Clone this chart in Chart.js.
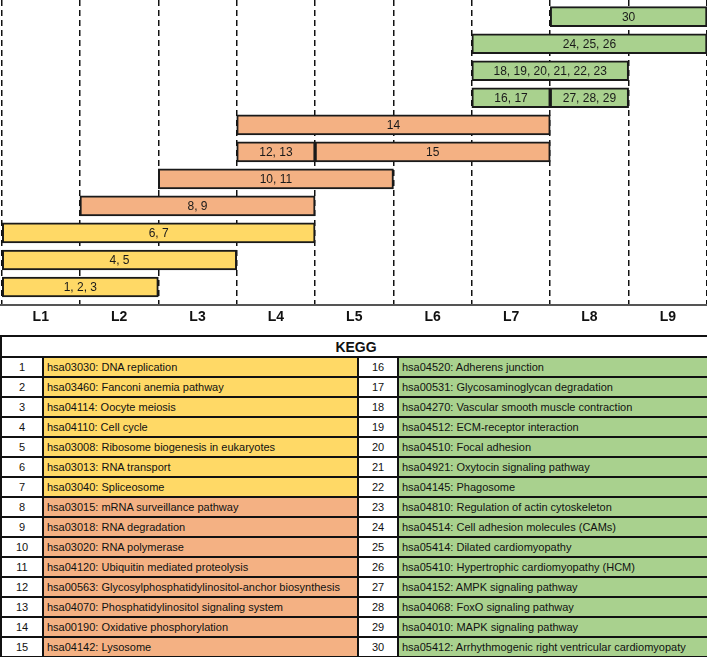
<!DOCTYPE html>
<html>
<head>
<meta charset="utf-8">
<script src="https://cdn.jsdelivr.net/npm/chart.js@4.4.1/dist/chart.umd.min.js"></script>
<style>
  body { margin: 0; background: #fff; }
  #wrap { position: absolute; left: 0; top: 0; width: 707px; height: 330px; }
  #kegg {
    position: absolute; left: 0; top: 335px; width: 707px;
    border-collapse: collapse; table-layout: fixed;
    font-family: "Liberation Sans", Arial, sans-serif; font-size: 11px; color: #111;
  }
  #kegg td, #kegg th { border: 2px solid #111; padding: 0 0 0 3px; white-space: nowrap; overflow: hidden; }
  #kegg th { font-size: 14px; font-weight: bold; height: 19px; background: #fff; text-align: center; }
  #kegg td { height: 18px; line-height: 16px; }
  #kegg td.num { text-align: center; background: #fff; padding: 0; }
</style>
</head>
<body>
<div id="wrap"><canvas id="myChartNiveles" width="707" height="330"></canvas></div>
<table id="kegg">
  <colgroup><col style="width:42px"><col style="width:315px"><col style="width:40px"><col style="width:310px"></colgroup>
  <thead><tr><th colspan="4">KEGG</th></tr></thead>
  <tbody id="keggBody"></tbody>
</table>
<script>
// Niveles (columnas)
const levels = ["L1", "L2", "L3", "L4", "L5", "L6", "L7", "L8", "L9"];

// Barras: etiqueta, fila (0 = abajo), primer y ultimo nivel, grupo de color
const barLabels = ["1, 2, 3", "4, 5", "6, 7", "8, 9", "10, 11", "12, 13", "15", "14",
  "16, 17", "27, 28, 29", "18, 19, 20, 21, 22, 23", "24, 25, 26", "30"];
const barRows = [0, 1, 2, 3, 4, 5, 5, 6, 7, 7, 8, 9, 10];
const barFrom = [1, 1, 1, 2, 3, 4, 5, 4, 7, 8, 7, 7, 8];
const barTo = [2, 3, 4, 4, 5, 4, 7, 7, 7, 8, 8, 9, 9];
const barGroup = [0, 0, 0, 1, 1, 1, 1, 1, 2, 2, 2, 2, 2];

// Tabla KEGG
const keggTerms = [
  "hsa03030: DNA replication",
  "hsa03460: Fanconi anemia pathway",
  "hsa04114: Oocyte meiosis",
  "hsa04110: Cell cycle",
  "hsa03008: Ribosome biogenesis in eukaryotes",
  "hsa03013: RNA transport",
  "hsa03040: Spliceosome",
  "hsa03015: mRNA surveillance pathway",
  "hsa03018: RNA degradation",
  "hsa03020: RNA polymerase",
  "hsa04120: Ubiquitin mediated proteolysis",
  "hsa00563: Glycosylphosphatidylinositol-anchor biosynthesis",
  "hsa04070: Phosphatidylinositol signaling system",
  "hsa00190: Oxidative phosphorylation",
  "hsa04142: Lysosome",
  "hsa04520: Adherens junction",
  "hsa00531: Glycosaminoglycan degradation",
  "hsa04270: Vascular smooth muscle contraction",
  "hsa04512: ECM-receptor interaction",
  "hsa04510: Focal adhesion",
  "hsa04921: Oxytocin signaling pathway",
  "hsa04145: Phagosome",
  "hsa04810: Regulation of actin cytoskeleton",
  "hsa04514: Cell adhesion molecules (CAMs)",
  "hsa05414: Dilated cardiomyopathy",
  "hsa05410: Hypertrophic cardiomyopathy (HCM)",
  "hsa04152: AMPK signaling pathway",
  "hsa04068: FoxO signaling pathway",
  "hsa04010: MAPK signaling pathway",
  "hsa05412: Arrhythmogenic right ventricular cardiomyopaty"
];
const keggGroup = [0, 0, 0, 0, 0, 0, 0, 1, 1, 1, 1, 1, 1, 1, 1,
  2, 2, 2, 2, 2, 2, 2, 2, 2, 2, 2, 2, 2, 2, 2];

const groupColors = ["#FFD966", "#F4B183", "#A9D18E"];

// Tabla
const tbody = document.getElementById("keggBody");
for (let i = 0; i < 15; i++) {
  const tr = document.createElement("tr");
  [i, i + 15].forEach(function (k) {
    const num = document.createElement("td");
    num.className = "num";
    num.textContent = k + 1;
    const name = document.createElement("td");
    name.textContent = keggTerms[k];
    name.style.background = groupColors[keggGroup[k]];
    tr.appendChild(num);
    tr.appendChild(name);
  });
  tbody.appendChild(tr);
}

// Etiquetas dentro de las barras
const barText = {
  id: "barText",
  afterDatasetsDraw(chart) {
    const ctx = chart.ctx;
    ctx.save();
    ctx.font = "12px 'Liberation Sans', Arial, sans-serif";
    ctx.fillStyle = "#1a1a1a";
    ctx.textAlign = "center";
    ctx.textBaseline = "middle";
    chart.data.datasets.forEach(function (ds, i) {
      const bar = chart.getDatasetMeta(i).data[0];
      ctx.fillText(ds.label, (bar.x + bar.base) / 2, bar.y + 1);
    });
    ctx.restore();
  }
};

const tickValues = [];
for (let i = 0; i <= levels.length; i++) {
  tickValues.push(i);
  if (i < levels.length) tickValues.push(i + 0.5);
}

const ctxNiveles = document.getElementById("myChartNiveles").getContext("2d");
const myChartNiveles = new Chart(ctxNiveles, {
  type: "bar",
  data: {
    datasets: barLabels.map(function (lab, i) {
      return {
        label: lab,
        data: [{ x: [barFrom[i] - 1, barTo[i]], y: barRows[i] }],
        backgroundColor: groupColors[barGroup[i]],
        borderColor: "#1a1a1a",
        borderWidth: 2,
        borderSkipped: false,
        barThickness: 20,
        grouped: false
      };
    })
  },
  options: {
    indexAxis: "y",
    responsive: false,
    animation: false,
    layout: { padding: 0, autoPadding: false },
    plugins: { legend: { display: false }, tooltip: { enabled: false } },
    scales: {
      y: { type: "linear", display: false, offset: false, min: -0.674, max: 10.618 },
      x: {
        type: "linear",
        min: -0.02,
        max: levels.length,
        afterBuildTicks: function (axis) {
          axis.ticks = tickValues.map(function (v) { return { value: v }; });
        },
        afterFit: function (axis) {
          // sin margen lateral: las columnas ocupan todo el ancho
          axis.paddingLeft = 0;
          axis.paddingRight = 0;
        },
        grid: {
          drawTicks: false,
          lineWidth: 1.5,
          color: function (c) {
            return c.tick && Number.isInteger(c.tick.value) ? "#111" : "rgba(0,0,0,0)";
          }
        },
        border: { display: true, color: "#555", width: 2, dash: [6, 4] },
        ticks: {
          autoSkip: false,
          maxRotation: 0,
          padding: 4,
          color: "#111",
          font: { family: "'Liberation Sans', Arial, sans-serif", size: 14, weight: "bold" },
          callback: function (value) {
            return value % 1 === 0.5 ? levels[Math.floor(value)] : "";
          }
        }
      }
    }
  },
  plugins: [barText]
});
</script>
</body>
</html>
